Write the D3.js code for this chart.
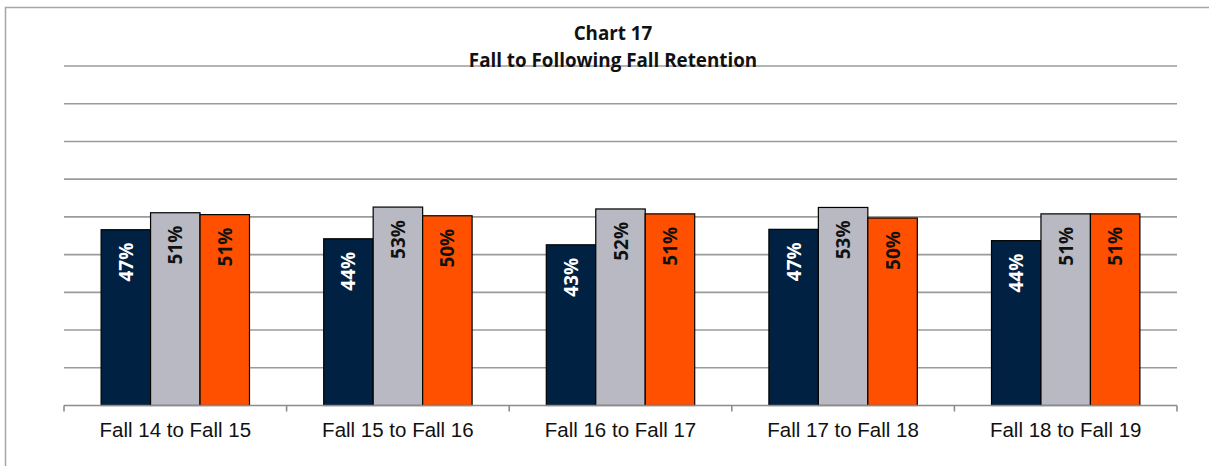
<!DOCTYPE html>
<html>
<head>
  <meta charset="UTF-8">
  <style>
    body { margin: 0; background: #fff; }
    svg { display: block; }
  </style>
</head>
<body>
    <svg id="chart" width="1209" height="466"></svg>
    <script src="https://d3js.org/d3.v7.min.js"></script>
    <script>
        // chart values
        var categories = ["Fall 14 to Fall 15", "Fall 15 to Fall 16", "Fall 16 to Fall 17", "Fall 17 to Fall 18", "Fall 18 to Fall 19"];
        var seriesNames = ["A", "B", "C"];
        var seriesA = [0.466, 0.442, 0.426, 0.467, 0.437];
        var seriesB = [0.511, 0.526, 0.521, 0.525, 0.508];
        var seriesC = [0.506, 0.503, 0.508, 0.497, 0.508];
        var yTicks = [0, 0.1, 0.2, 0.3, 0.4, 0.5, 0.6, 0.7, 0.8, 0.9];
        var colors = ["#002142", "#b9b9c3", "#ff5000"];
        var labelColors = ["#ffffff", "#111111", "#111111"];

        var seriesValues = [seriesA, seriesB, seriesC];

        var svg = d3.select("#chart");

        // outer frame (runs off the right and bottom of the picture)
        svg.append("rect")
            .attr("x", 5.5).attr("y", 7.5)
            .attr("width", 1300).attr("height", 600)
            .attr("fill", "none")
            .attr("stroke", "#a6a6a6")
            .attr("stroke-width", 1.5);

        var plotLeft = 64, plotRight = 1177, plotTop = 66, plotBottom = 405.5;

        var x = d3.scaleBand().domain(categories).range([plotLeft, plotRight]).paddingInner(0).paddingOuter(0);
        var xSub = d3.scaleBand().domain(seriesNames).range([0, x.bandwidth()]).paddingInner(0).paddingOuter(0.75);
        var y = d3.scaleLinear().domain([0, 0.9]).range([plotBottom, plotTop]);

        // gridlines
        svg.append("g")
            .selectAll("line")
            .data(yTicks.filter(d => d > 0))
            .enter().append("line")
            .attr("x1", plotLeft).attr("x2", plotRight)
            .attr("y1", d => y(d)).attr("y2", d => y(d))
            .attr("stroke", "#9b9b9b")
            .attr("stroke-width", 1.6);

        // title
        var title = svg.append("g")
            .attr("font-family", "'Open Sans', sans-serif")
            .attr("font-weight", "bold")
            .attr("font-size", 18.8)
            .attr("fill", "#111")
            .attr("text-anchor", "middle");
        title.append("text").attr("x", 613).attr("y", 40).text("Chart 17");
        title.append("text").attr("x", 613).attr("y", 67).text("Fall to Following Fall Retention");

        // bars
        var groups = svg.append("g")
            .selectAll("g")
            .data(categories)
            .enter().append("g")
            .attr("transform", d => "translate(" + x(d) + ",0)");

        var barData = function(d, i) {
            return seriesNames.map((s, j) => ({ s: s, j: j, v: seriesValues[j][i] }));
        };

        groups.selectAll("rect")
            .data(barData)
            .enter().append("rect")
            .attr("x", d => xSub(d.s))
            .attr("y", d => y(d.v))
            .attr("width", xSub.bandwidth())
            .attr("height", d => y(0) - y(d.v))
            .attr("fill", d => colors[d.j])
            .attr("stroke", "#000")
            .attr("stroke-width", 1.2);

        groups.selectAll("text")
            .data(barData)
            .enter().append("text")
            .attr("transform", d => "translate(" + (xSub(d.s) + xSub.bandwidth() / 2 + 7) + "," + (y(d.v) + 13) + ") rotate(-90)")
            .attr("text-anchor", "end")
            .attr("font-family", "'Open Sans', sans-serif")
            .attr("font-weight", "bold")
            .attr("font-size", 19)
            .attr("fill", d => labelColors[d.j])
            .text(d => Math.round(d.v * 100) + "%");

        // x axis
        var xAxis = d3.axisBottom(x).tickSize(0).tickPadding(17);
        var ax = svg.append("g")
            .attr("transform", "translate(0," + plotBottom + ")")
            .call(xAxis);
        ax.select(".domain").remove();
        ax.selectAll("text")
            .attr("font-family", "'Liberation Sans', Arial, sans-serif")
            .attr("font-size", 20.5)
            .attr("fill", "#111");

        ax.append("line")
            .attr("x1", plotLeft).attr("x2", plotRight)
            .attr("stroke", "#8c8c8c").attr("stroke-width", 1.6);
        ax.selectAll(".sep")
            .data(categories.map(c => x(c)).concat([plotRight]))
            .enter().append("line")
            .attr("class", "sep")
            .attr("x1", d => d).attr("x2", d => d)
            .attr("y1", 0).attr("y2", 6)
            .attr("stroke", "#8c8c8c").attr("stroke-width", 1.6);
    </script>
</body>
</html>
